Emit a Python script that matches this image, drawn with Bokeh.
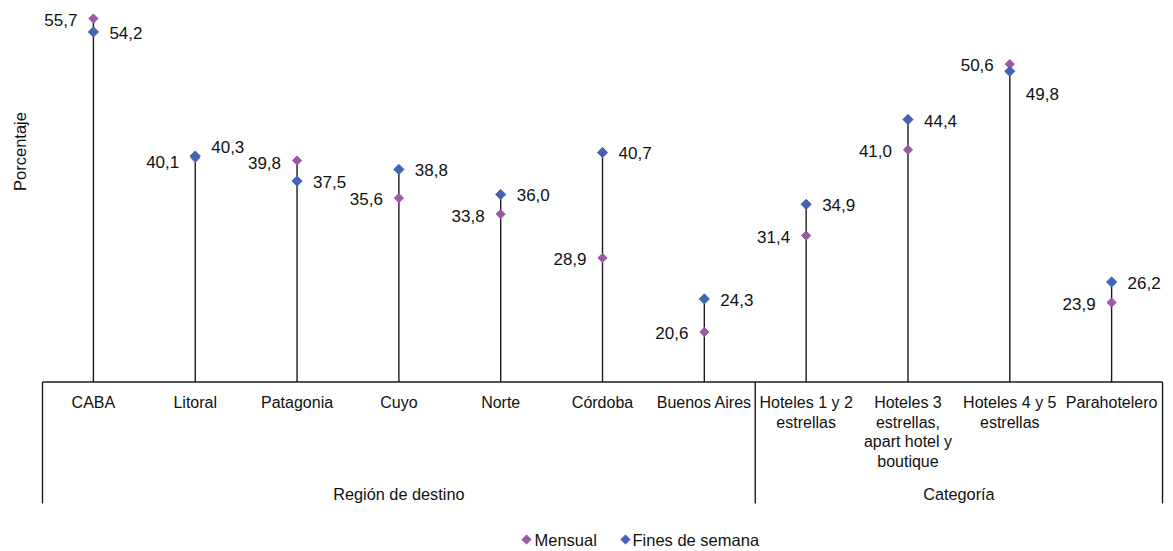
import numpy as np
from bokeh.plotting import figure
from bokeh.models import ColumnDataSource, Range1d
from bokeh.core.properties import value
from bokeh.embed import file_html
from bokeh.resources import INLINE

# ---------------- data ----------------
categories = ["CABA", "Litoral", "Patagonia", "Cuyo", "Norte", "Córdoba", "Buenos Aires",
              "Hoteles 1 y 2\nestrellas",
              "Hoteles 3\nestrellas,\napart hotel y\nboutique",
              "Hoteles 4 y 5\nestrellas",
              "Parahotelero"]
mensual = [55.7, 40.1, 39.8, 35.6, 33.8, 28.9, 20.6, 31.4, 41.0, 50.6, 23.9]
fines = [54.2, 40.3, 37.5, 38.8, 36.0, 40.7, 24.3, 34.9, 44.4, 49.8, 26.2]
groups = ["Región de destino", "Categoría"]
group_sizes = [7, 4]
series_names = ["Mensual", "Fines de semana"]
y_axis_label = "Porcentaje"
y_min = 15

# ---------------- styling / layout ----------------
FONT = value("Liberation Sans")
C_MENS = "#9E58A8"
C_FIN = "#4264B4"
C_LINE = "#1a1a1a"
C_TEXT = "#111111"
W, H = 1173, 551
X0_PX, PXX = 42.0, 101.82      # page x of category 0 left edge, px per category
Y0_PX, PXY = 381.5, 8.93       # page y of y_min, px per unit
# vertical label nudges in px (positive = down), to mimic the original placement
m_nudge = [1.5, 4, 2, 0.5, 1.5, 1, 1, 1, 1, 0.5, 1]
f_nudge = [1.5, -9, 1, 1, 1, 1, 1, 1, 2, 23, 1]


def fx(px):
    return (px - X0_PX) / PXX


def fy(py):
    return y_min + (Y0_PX - py) / PXY


n = len(categories)
xs = [i + 0.5 for i in range(n)]
tops = [max(a, b) for a, b in zip(mensual, fines)]
fmt = lambda v: f"{v:.1f}".replace(".", ",")

p = figure(width=W, height=H, output_backend="svg", toolbar_location=None,
           x_range=Range1d(fx(0), fx(W)), y_range=Range1d(fy(H), fy(0)),
           min_border=0)
p.axis.visible = False
p.grid.visible = False
p.outline_line_color = None
p.background_fill_color = "white"

# stems
p.segment(x0=xs, y0=[y_min] * n, x1=xs, y1=tops, line_color=C_LINE, line_width=1.4)

# baseline
p.segment(x0=[0], y0=[y_min], x1=[n], y1=[y_min], line_color=C_LINE, line_width=1.4)

# group separators
bounds = [0] + [int(b) for b in np.cumsum(group_sizes)]
p.segment(x0=bounds, y0=[y_min] * len(bounds), x1=bounds,
          y1=[fy(Y0_PX + 121.5)] * len(bounds), line_color=C_LINE, line_width=1.4)

# markers
src = ColumnDataSource(dict(
    x=xs, m=mensual, f=fines,
    my=[v - d / PXY for v, d in zip(mensual, m_nudge)],
    fy=[v - d / PXY for v, d in zip(fines, f_nudge)],
    ml=[fmt(v) for v in mensual], fl=[fmt(v) for v in fines]))
p.scatter("x", "m", source=src, marker="square", size=6.5, angle=np.pi / 4,
          fill_color=C_MENS, line_color=C_MENS)
p.scatter("x", "f", source=src, marker="square", size=7.2, angle=np.pi / 4,
          fill_color=C_FIN, line_color=C_FIN)

# value labels
p.text("x", "my", text="ml", source=src, x_offset=-16, text_align="right",
       text_baseline="middle", text_font=FONT, text_font_size="17px", text_color=C_TEXT)
p.text("x", "fy", text="fl", source=src, x_offset=16, text_align="left",
       text_baseline="middle", text_font=FONT, text_font_size="17px", text_color=C_TEXT)

# category labels
p.text(x=xs, y=[fy(Y0_PX + 12)] * n, text=categories, text_align="center",
       text_baseline="top", text_font=FONT, text_font_size="16px",
       text_line_height=1.16, text_color=C_TEXT)

# group labels
gx = [(bounds[i] + bounds[i + 1]) / 2 for i in range(len(groups))]
p.text(x=gx, y=[fy(493)] * len(groups), text=groups, text_align="center",
       text_baseline="middle", text_font=FONT, text_font_size="16.3px", text_color=C_TEXT)

# y axis title
p.text(x=[fx(19)], y=[fy(151)], text=[y_axis_label], angle=np.pi / 2,
       text_align="center", text_baseline="middle", text_font=FONT,
       text_font_size="16.5px", text_color=C_TEXT)

# legend (drawn manually to get diamond keys)
leg_y = fy(539)
p.scatter(x=[fx(526)], y=[leg_y], marker="square", size=6.5, angle=np.pi / 4,
          fill_color=C_MENS, line_color=C_MENS)
p.scatter(x=[fx(625)], y=[leg_y], marker="square", size=6.5, angle=np.pi / 4,
          fill_color=C_FIN, line_color=C_FIN)
p.text(x=[fx(534), fx(632)], y=[leg_y, leg_y], text=series_names, text_align="left",
       text_baseline="middle", text_font=FONT, text_font_size="16.5px", text_color=C_TEXT)

open("out.html", "w").write(file_html(p, INLINE))
